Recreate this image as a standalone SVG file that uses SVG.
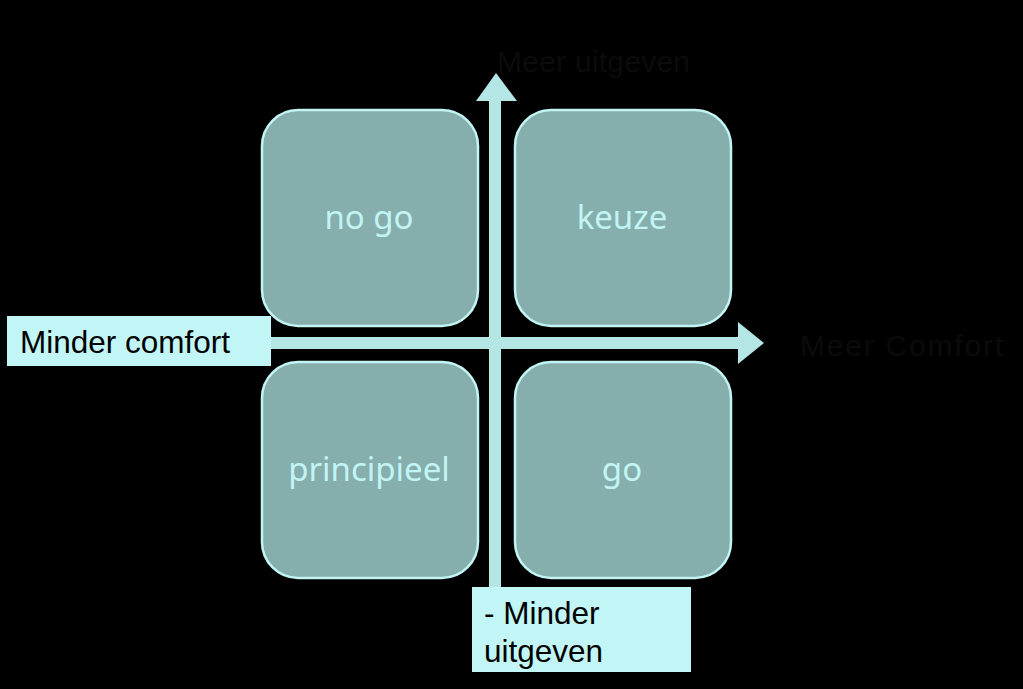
<svg xmlns="http://www.w3.org/2000/svg" width="1023" height="689" viewBox="0 0 1023 689">
<style>
.box{fill:#86aeac;stroke:#c2f4f4;stroke-width:2.5}
.bt{font-family:"Noto Sans","Open Sans","DejaVu Sans",sans-serif;font-size:33px;fill:#c2f4f4;text-anchor:middle}
.lab{fill:#c2f6f6}
.lt{font-family:"Liberation Sans",Arial,sans-serif;font-size:31.5px;fill:#000}
.dark{font-family:"Liberation Sans",Arial,sans-serif;font-size:30px;fill:#0b0b0b}
.ax{fill:#b4e6e6}
</style>
<rect width="1023" height="689" fill="#000"/>
<g id="axes">
<rect class="ax" x="489" y="98" width="12" height="490"/>
<polygon class="ax" points="476,101 496,73 517,101"/>
<rect class="ax" x="268" y="337" width="472" height="12"/>
<polygon class="ax" points="738,322 764,343 738,364"/>
</g>
<g id="nogo"><rect class="box" x="262" y="110" width="216" height="216" rx="36"/><text class="bt" x="369" y="229">no go</text></g>
<g id="keuze"><rect class="box" x="515" y="110" width="216" height="216" rx="36"/><text class="bt" x="622" y="229">keuze</text></g>
<g id="principieel"><rect class="box" x="262" y="362" width="216" height="216" rx="36"/><text class="bt" x="369" y="481">principieel</text></g>
<g id="go"><rect class="box" x="515" y="362" width="216" height="216" rx="36"/><text class="bt" x="622" y="481">go</text></g>
<g id="minder-comfort"><rect class="lab" x="7" y="316" width="264" height="50"/><text class="lt" x="20" y="353">Minder comfort</text></g>
<g id="minder-uitgeven"><rect class="lab" x="472" y="587" width="219" height="85"/><text class="lt" x="484" y="624">- Minder</text><text class="lt" x="484" y="662">uitgeven</text></g>
<g id="meer-uitgeven"><text class="dark" x="497" y="72" textLength="193">Meer uitgeven</text></g>
<g id="meer-comfort"><text class="dark" x="800" y="356" textLength="203">Meer  Comfort</text></g>
</svg>
